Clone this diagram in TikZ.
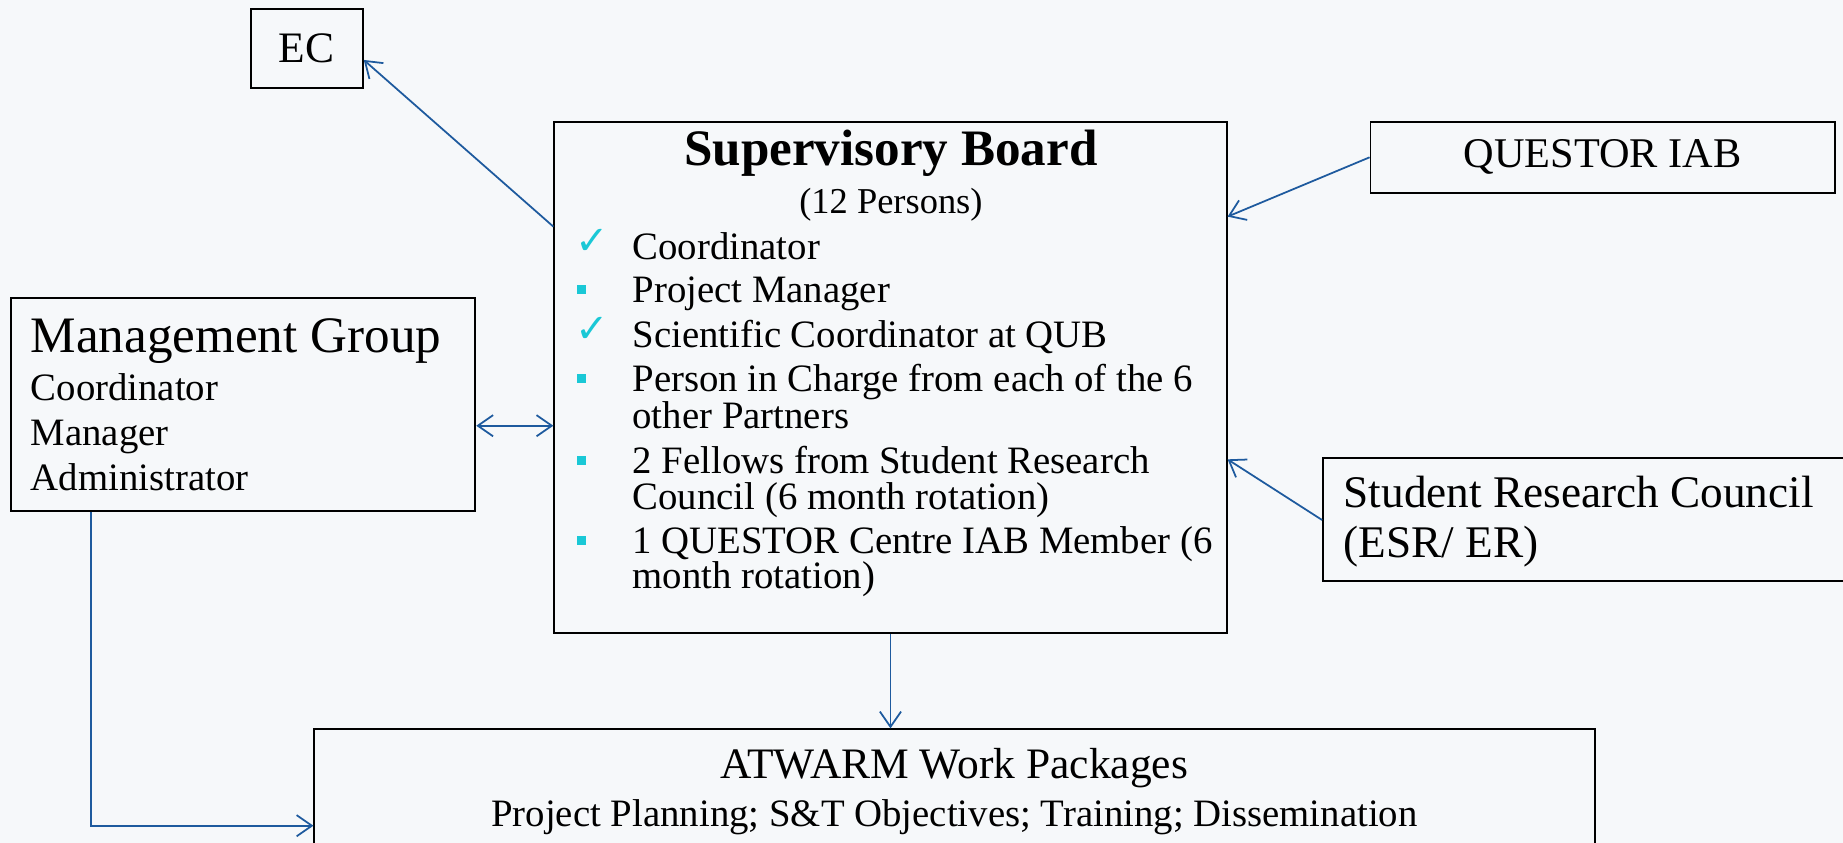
\documentclass[tikz,border=0pt]{standalone}
\usepackage{fontspec}
\setmainfont{Liberation Serif}
\newfontfamily\symfont{DejaVu Sans}
\usetikzlibrary{arrows.meta}

\definecolor{linkblue}{RGB}{30,90,158}
\definecolor{tickcyan}{RGB}{26,200,214}
\definecolor{slidebg}{RGB}{246,248,250}

\begin{document}
\begin{tikzpicture}[x=1pt, y=-1pt, >={Straight Barb[length=13pt,width=18pt]},
  box/.style={draw, line width=1.6pt, inner sep=0pt},
  link/.style={draw=linkblue, line width=1.5pt},
  bodytext/.style={font=\fontsize{33}{36}\selectfont, inner sep=0pt},
  labeltext/.style={font=\fontsize{37}{40}\selectfont, inner sep=0pt},
  headtext/.style={font=\fontsize{43.5}{46}\selectfont, inner sep=0pt},
  sqbullet/.style={fill=tickcyan, minimum size=7.5pt, inner sep=0pt},
  tick/.style={text=tickcyan, font=\symfont\fontsize{34}{34}\selectfont, inner sep=0pt}]
  \fill[slidebg] (0,0) rectangle (1568,717);
  \useasboundingbox (0,0) rectangle (1568,717);
  \clip (0,0) rectangle (1568,717);

  % boxes
  \node[box, minimum width=95.4pt, minimum height=66.7pt, labeltext] (ec) at (261,41.25) {EC};
  \node[box, minimum width=395pt, minimum height=60pt, font=\fontsize{36}{40}\selectfont] (qiab) at (1363.5,133.85) {QUESTOR IAB};
  \node[box, minimum width=572pt, minimum height=435.3pt] (sb) at (757.6,321.15) {};
  \node[box, minimum width=395.3pt, minimum height=181.4pt] (mg) at (206.75,344) {};
  \node[box, minimum width=500pt, minimum height=104.6pt] (src) at (1375.6,441.7) {};
  \node[box, minimum width=1089.5pt, minimum height=140pt] (wp) at (812.25,690.5) {};

  % supervisory board
  \node[headtext, font=\bfseries\fontsize{43.5}{46}\selectfont, anchor=base] (sbtitle) at (758,140.4) {Supervisory Board};
  \node[bodytext, font=\fontsize{31}{34}\selectfont, anchor=base] (sbsize) at (758,181.5) {(12 Persons)};
  \node[tick, anchor=base west] (t1) at (489,216.6) {✓};
  \node[bodytext, anchor=base west] (i1) at (538,220.6) {Coordinator};
  \node[sqbullet] (b2) at (495,246.3) {};
  \node[bodytext, anchor=base west] (i2) at (538,257.5) {Project Manager};
  \node[tick, anchor=base west] (t3) at (489,291.5) {✓};
  \node[bodytext, anchor=base west] (i3) at (538,295.5) {Scientific Coordinator at QUB};
  \node[sqbullet] (b4) at (495,322) {};
  \node[bodytext, anchor=base west] (i4a) at (538,333.2) {Person in Charge from each of the 6};
  \node[bodytext, anchor=base west] (i4b) at (538,364.4) {other Partners};
  \node[sqbullet] (b5) at (495,391.5) {};
  \node[bodytext, anchor=base west] (i5a) at (538,402.7) {2 Fellows from Student Research};
  \node[bodytext, anchor=base west] (i5b) at (538,433.3) {Council (6 month rotation)};
  \node[sqbullet] (b6) at (495,459.6) {};
  \node[bodytext, anchor=base west] (i6a) at (538,470.8) {1 QUESTOR Centre IAB Member (6};
  \node[bodytext, anchor=base west] (i6b) at (538,500.5) {month rotation)};

  % management group
  \node[headtext, anchor=base west] (mgtitle) at (26,300) {Management Group};
  \node[bodytext, anchor=base west] (mg1) at (26,340.9) {Coordinator};
  \node[bodytext, anchor=base west] (mg2) at (26,379.2) {Manager};
  \node[bodytext, anchor=base west] (mg3) at (26,416.9) {Administrator};

  % student research council
  \node[bodytext, font=\fontsize{38.5}{40}\selectfont, anchor=base west] (src1) at (1143,431.6) {Student Research Council};
  \node[bodytext, font=\fontsize{38.5}{40}\selectfont, anchor=base west] (src2) at (1143,474.2) {(ESR/ ER)};

  % work packages
  \node[labeltext, anchor=base] (wptitle) at (812,662.2) {ATWARM Work Packages};
  \node[bodytext, anchor=base] (wplist) at (812,703.3) {Project Planning; S\&T Objectives; Training; Dissemination};

  % connectors
  \coordinate (mgout) at ([yshift=-18.2pt]mg.east);
  \draw[link, ->] ([yshift=128.35pt]sb.west) -- ([yshift=-9.75pt]ec.east);
  \draw[link, ->] (qiab.west) -- ([yshift=136.85pt]sb.east);
  \draw[link, ->] ([yshift=-0.7pt]src.west) -- ([yshift=-69.65pt]sb.east);
  \draw[link, <->] (mgout) -- (mgout -| sb.west);
  \draw[link, ->] (sb.south) -- (sb.south |- wp.north);
  \draw[link, ->] ([xshift=-129.55pt]mg.south) |- ([yshift=-12pt]wp.west);
\end{tikzpicture}
\end{document}
